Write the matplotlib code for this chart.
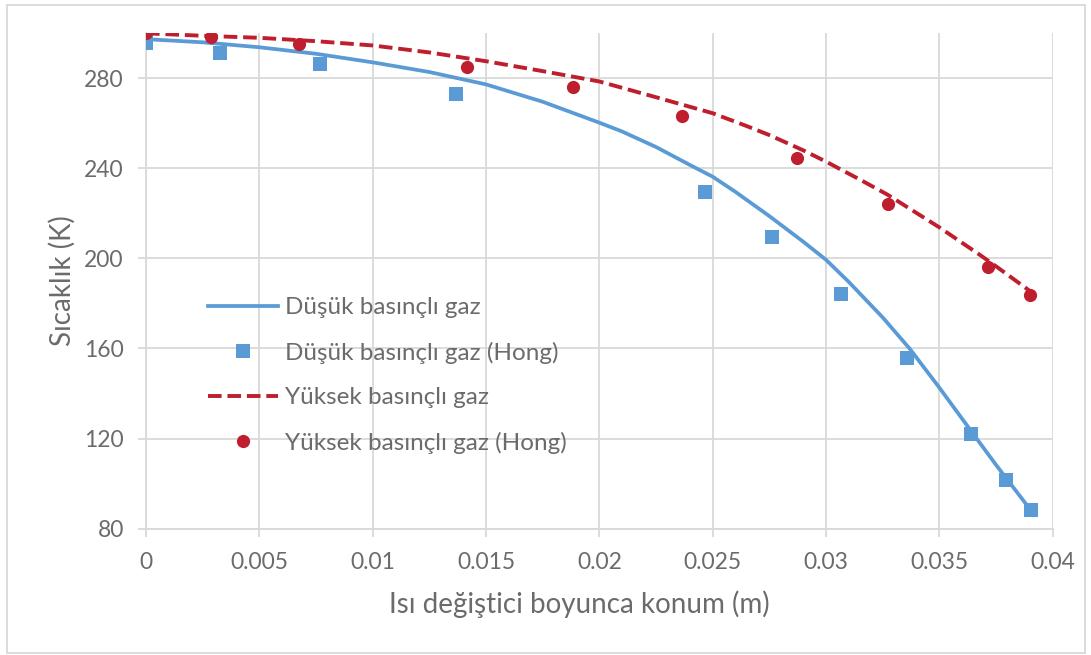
import matplotlib.pyplot as plt
from matplotlib.patches import Rectangle

plt.rcParams['font.family'] = ['Lato', 'DejaVu Sans']

# model curves
x_dusuk = [0, 0.0025, 0.005, 0.0075, 0.01, 0.0125, 0.015, 0.0175, 0.02, 0.021,
           0.0225, 0.024, 0.025, 0.026, 0.0275, 0.029, 0.03, 0.031, 0.0325,
           0.0337, 0.035, 0.0366, 0.0375, 0.039]
y_dusuk = [297.4, 296.0, 293.8, 290.9, 287.1, 282.8, 277.3, 269.6, 260.3, 256.4,
           249.5, 241.5, 236.3, 229.6, 218.8, 207.4, 199.4, 189.6, 173.8,
           159.8, 142.6, 120.6, 108.3, 88.6]

x_yuksek = [0, 0.0025, 0.005, 0.0075, 0.01, 0.0125, 0.015, 0.0175, 0.02, 0.0225,
            0.025, 0.0265, 0.0275, 0.029, 0.03, 0.0315, 0.0327, 0.035, 0.0368,
            0.0375, 0.039]
y_yuksek = [300.0, 298.9, 298.0, 296.5, 294.6, 291.5, 287.6, 283.2, 278.6, 271.6,
            264.5, 258.8, 254.8, 248.0, 243.0, 235.0, 228.4, 213.8, 201.5,
            196.5, 185.5]

# Hong data points
x_hong_d = [0, 0.00327, 0.00768, 0.01369, 0.02466, 0.02762, 0.03067, 0.03358,
            0.03641, 0.03792, 0.03903]
y_hong_d = [295.6, 291.4, 286.2, 273.0, 229.6, 209.6, 184.2, 155.6, 122.2, 101.8, 88.4]

x_hong_y = [0, 0.00287, 0.00673, 0.01416, 0.01882, 0.02365, 0.02873, 0.03274,
            0.03714, 0.039]
y_hong_y = [300.0, 298.2, 295.1, 285.2, 276.3, 263.3, 244.7, 224.0, 196.3, 183.7]

xticks = [0, 0.005, 0.01, 0.015, 0.02, 0.025, 0.03, 0.035, 0.04]
xtick_labels = ['0', '0.005', '0.01', '0.015', '0.02', '0.025', '0.03', '0.035', '0.04']
yticks = [80, 120, 160, 200, 240, 280]

blue = '#5B9BD5'
red = '#BE1E2D'
txt = '#6b6b6b'
grid = '#D9D9D9'

fig = plt.figure(figsize=(10.91, 6.55), dpi=100)
ax = fig.add_axes([146 / 1091, 1 - 528.6 / 655, (1052.7 - 146) / 1091, (528.6 - 33.3) / 655])

ax.plot(x_dusuk, y_dusuk, color=blue, lw=2.7, label='Düşük basınçlı gaz', zorder=3)
ax.plot(x_hong_d, y_hong_d, 's', color=blue, ms=10, mew=0,
        label='Düşük basınçlı gaz (Hong)', zorder=4)
ax.plot(x_yuksek, y_yuksek, color=red, lw=2.8, ls=(0, (3.5, 1.5)),
        label='Yüksek basınçlı gaz', zorder=3)
ax.plot(x_hong_y, y_hong_y, 'o', color=red, ms=9.5, mew=0,
        label='Yüksek basınçlı gaz (Hong)', zorder=4)

ax.set_xlim(0, 0.04)
ax.set_ylim(80, 300)
ax.set_xticks(xticks)
ax.set_xticklabels(xtick_labels)
ax.set_yticks(yticks)
ax.grid(True, color=grid, lw=1.3)
ax.set_axisbelow(True)
for s in ['top', 'right']:
    ax.spines[s].set_visible(False)
for s in ['left', 'bottom']:
    ax.spines[s].set_color(grid)
    ax.spines[s].set_linewidth(1.3)
ax.tick_params(axis='both', colors=grid, length=6, width=1.3, labelcolor=txt, labelsize=16.5)
ax.tick_params(axis='y', pad=10)
ax.tick_params(axis='x', pad=11)

fig.text(579 / 1091, 1 - 604 / 655, 'Isı değiştici boyunca konum (m)', color=txt,
         fontsize=20, ha='center', va='center')
fig.text(62 / 1091, 1 - 281 / 655, 'Sıcaklık (K)', color=txt, fontsize=20,
         rotation=90, ha='center', va='center')

leg = ax.legend(loc='upper left', bbox_to_anchor=(208 / 1091, 1 - 297 / 655),
                bbox_transform=fig.transFigure, frameon=False, fontsize=17.5,
                handlelength=2.88, handletextpad=0.29, labelspacing=0.97,
                borderpad=0, borderaxespad=0)
for t in leg.get_texts():
    t.set_color(txt)

fig.patches.append(Rectangle((7 / 1091, 1 - 653 / 655), 1078 / 1091, 648 / 655,
                             transform=fig.transFigure, fill=False,
                             edgecolor=grid, lw=1.3))

fig.savefig('out.png', dpi=100, facecolor='white')
